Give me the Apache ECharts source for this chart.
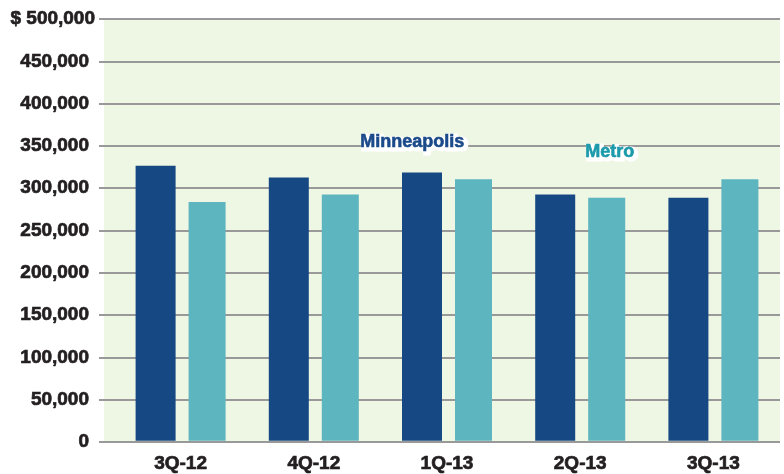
<!DOCTYPE html>
<html>
<head>
<meta charset="utf-8">
<script src="https://cdn.jsdelivr.net/npm/echarts@6/dist/echarts.min.js"></script>
<style>
html,body{margin:0;padding:0;background:#fff;}
#chart{width:784px;height:474px;}
</style>
</head>
<body>
<div id="chart"></div>
<script>
const categories = ['3Q-12', '4Q-12', '1Q-13', '2Q-13', '3Q-13'];
const minneapolis = [326000, 312000, 318000, 292000, 288000];
const metro = [283000, 292000, 310000, 288000, 310000];
const yTicks = [0, 50000, 100000, 150000, 200000, 250000, 300000, 350000, 400000, 450000, 500000];

const FONT = '"Liberation Sans", Arial, sans-serif';
const chart = echarts.init(document.getElementById('chart'));

function fmt(v) {
  const s = v.toLocaleString('en-US');
  if (v === yTicks[yTicks.length - 1]) return '$ ' + s;
  return s + '{s|}';
}

function label(text, x, y, color) {
  return [
    { type: 'text', left: x, top: y, z: 100,
      style: { text: text, fill: '#ffffff', font: 'bold 18px ' + FONT, stroke: '#ffffff', lineWidth: 5 } },
    { type: 'text', left: x, top: y, z: 101,
      style: { text: text, fill: color, font: 'bold 18px ' + FONT, stroke: color, lineWidth: 0.6 } }
  ];
}

chart.setOption({
  animation: false,
  grid: [
    { left: 104, right: 4, top: 19, bottom: 32, show: true, backgroundColor: '#eef6e4', borderWidth: 0 },
    { left: 114, right: 4, top: 19, bottom: 32 }
  ],
  xAxis: [
    { gridIndex: 0, type: 'category', data: categories, show: false },
    {
      gridIndex: 1, type: 'category', data: categories,
      axisLine: { show: false }, axisTick: { show: false },
      axisLabel: {
        margin: 14, color: '#231f20', fontFamily: FONT, fontWeight: 'bold', fontSize: 19,
        textBorderColor: '#231f20', textBorderWidth: 0.7
      }
    }
  ],
  yAxis: [
    {
      gridIndex: 0, type: 'value', min: 0, max: 500000, interval: 50000,
      axisLine: { show: false },
      axisTick: { show: true, length: 5, lineStyle: { color: '#999999', width: 2 } },
      splitLine: { show: true, lineStyle: { color: '#999999', width: 2 } },
      axisLabel: {
        margin: 9, color: '#231f20', fontFamily: FONT, fontWeight: 'bold', fontSize: 19,
        textBorderColor: '#231f20', textBorderWidth: 0.7,
        formatter: fmt,
        rich: { s: { width: 6 } }
      }
    },
    { gridIndex: 1, type: 'value', min: 0, max: 500000, interval: 50000, show: false }
  ],
  series: [
    {
      name: 'Minneapolis', type: 'bar', xAxisIndex: 1, yAxisIndex: 1,
      data: minneapolis, barWidth: 40, barGap: '32.5%',
      itemStyle: { color: '#164883' }
    },
    {
      name: 'Metro', type: 'bar', xAxisIndex: 1, yAxisIndex: 1,
      data: metro, barWidth: 37, barGap: '32.5%',
      itemStyle: { color: '#5db5bf' }
    }
  ],
  graphic: label('Minneapolis', 360, 133, '#1b4a8a').concat(label('Metro', 585, 143, '#1a9aaa'))
});
</script>
</body>
</html>
